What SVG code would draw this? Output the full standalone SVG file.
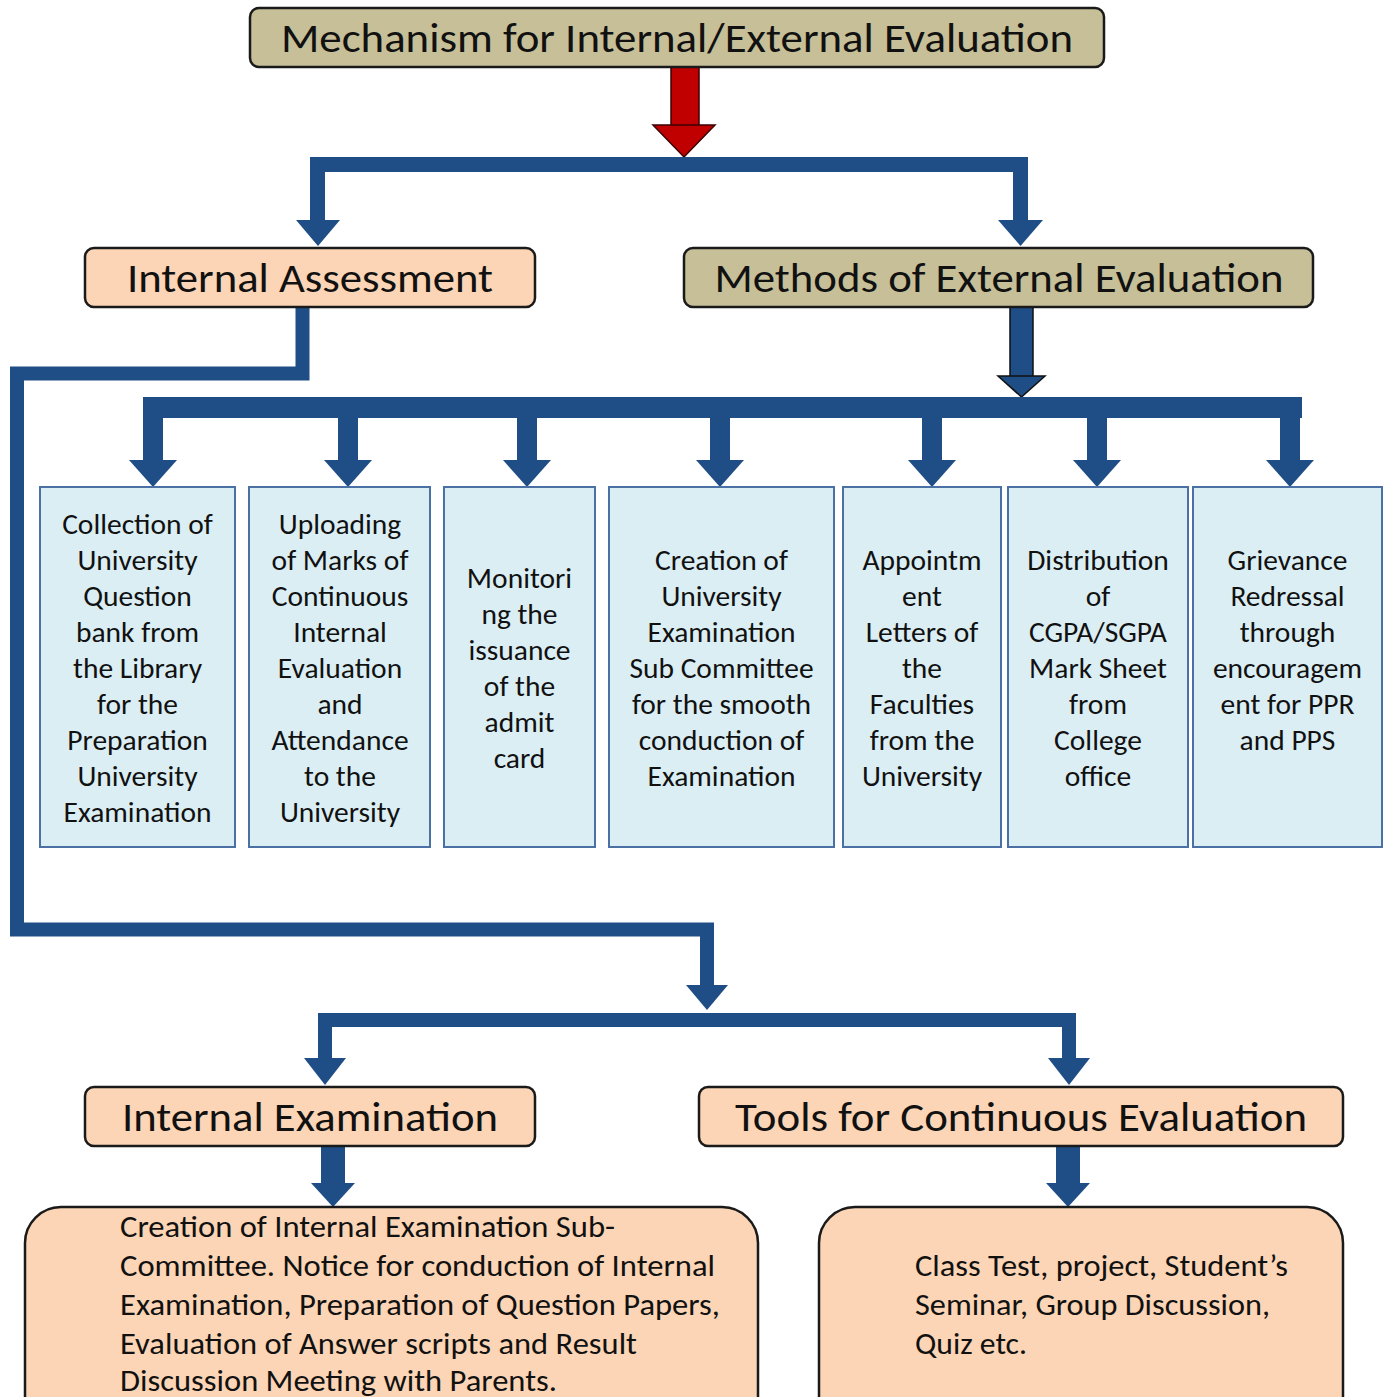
<svg xmlns="http://www.w3.org/2000/svg" width="1387" height="1397" viewBox="0 0 1387 1397">
<style>
  text { font-family: Carlito, Calibri, Lato, "Liberation Sans", sans-serif; fill: #111; }
  .head { font-size: 41px; text-anchor: middle; }
  .tan { fill: #c6bf98; stroke: #1a1a1a; stroke-width: 2.5; }
  .peach { fill: #fbd5b5; stroke: #1a1a1a; stroke-width: 2.5; }
  .blue { fill: #dbeef4; stroke: #4a70a4; stroke-width: 2; }
  .bt { font-size: 29.5px; text-anchor: middle; }
  .pt { font-size: 31px; }
  .conn { fill: none; stroke: #1f4e86; stroke-linejoin: miter; stroke-linecap: butt; }
  .ah { fill: #1f4e86; }
</style>
<rect width="1387" height="1397" fill="#ffffff"/>

<g id="connectors">
  <!-- red arrow from title -->
  <rect x="671" y="67" width="28" height="60" fill="#c00000" stroke="#3a0000" stroke-width="1.5"/>
  <polygon points="653,125 715,125 684,157" fill="#c00000" stroke="#3a0000" stroke-width="1.5"/>
  <!-- top branch -->
  <path class="conn" stroke-width="15" d="M317.5,224 V164.5 H1020.5 V224"/>
  <polygon class="ah" points="296,220 340,220 318,246"/>
  <polygon class="ah" points="998,220 1043,220 1020.5,246"/>
  <!-- internal assessment route -->
  <path class="conn" stroke-width="14" d="M302.5,307 V373.5 H17 V929.5 H707 V987"/>
  <polygon class="ah" points="686,985 728,985 707,1010"/>
  <!-- methods of external evaluation -->
  <rect x="1010" y="307" width="23" height="71" fill="#1f4e86" stroke="#111" stroke-width="1.5"/>
  <polygon points="998,376 1045,376 1021.5,397" fill="#1f4e86" stroke="#111" stroke-width="1.5"/>
  <rect x="143" y="397" width="1159" height="21" fill="#1f4e86"/>
  <rect x="143" y="410" width="20" height="52" fill="#1f4e86"/>
  <polygon class="ah" points="129,460 177,460 153,487"/>
  <rect x="338" y="410" width="20" height="52" fill="#1f4e86"/>
  <polygon class="ah" points="324,460 372,460 348,487"/>
  <rect x="517" y="410" width="20" height="52" fill="#1f4e86"/>
  <polygon class="ah" points="503,460 551,460 527,487"/>
  <rect x="710" y="410" width="20" height="52" fill="#1f4e86"/>
  <polygon class="ah" points="696,460 744,460 720,487"/>
  <rect x="922" y="410" width="20" height="52" fill="#1f4e86"/>
  <polygon class="ah" points="908,460 956,460 932,487"/>
  <rect x="1087" y="410" width="20" height="52" fill="#1f4e86"/>
  <polygon class="ah" points="1073,460 1121,460 1097,487"/>
  <rect x="1280" y="410" width="20" height="52" fill="#1f4e86"/>
  <polygon class="ah" points="1266,460 1314,460 1290,487"/>
  <!-- lower branch -->
  <path class="conn" stroke-width="14" d="M325,1062 V1020 H1069 V1062"/>
  <polygon class="ah" points="304,1058 346,1058 325,1085"/>
  <polygon class="ah" points="1048,1058 1090,1058 1069,1085"/>
  <!-- down to detail boxes -->
  <rect x="321" y="1146" width="24" height="40" fill="#1f4e86"/>
  <polygon class="ah" points="311,1183 355,1183 333,1207"/>
  <rect x="1056" y="1146" width="24" height="40" fill="#1f4e86"/>
  <polygon class="ah" points="1046,1183 1090,1183 1068,1207"/>
</g>

<g id="title">
  <rect class="tan" x="250" y="8" width="854" height="59" rx="9"/>
  <text class="head" x="677" y="52" textLength="792" lengthAdjust="spacingAndGlyphs">Mechanism for Internal/External Evaluation</text>
</g>

<g id="internal-assessment">
  <rect class="peach" x="85" y="248" width="450" height="59" rx="9"/>
  <text class="head" x="310" y="292" textLength="366" lengthAdjust="spacingAndGlyphs">Internal Assessment</text>
</g>

<g id="methods-external">
  <rect class="tan" x="684" y="248" width="629" height="59" rx="9"/>
  <text class="head" x="999" y="292" textLength="569" lengthAdjust="spacingAndGlyphs">Methods of External Evaluation</text>
</g>

<g id="box-collection">
  <rect class="blue" x="40" y="487" width="195" height="360"/>
  <text class="bt" x="137.5" y="534"><tspan x="137.5">Collection of</tspan><tspan x="137.5" dy="36">University</tspan><tspan x="137.5" dy="36">Question</tspan><tspan x="137.5" dy="36">bank from</tspan><tspan x="137.5" dy="36">the Library</tspan><tspan x="137.5" dy="36">for the</tspan><tspan x="137.5" dy="36">Preparation</tspan><tspan x="137.5" dy="36">University</tspan><tspan x="137.5" dy="36">Examination</tspan></text>
</g>

<g id="box-uploading">
  <rect class="blue" x="249" y="487" width="181" height="360"/>
  <text class="bt" x="340" y="534"><tspan x="340">Uploading</tspan><tspan x="340" dy="36">of Marks of</tspan><tspan x="340" dy="36">Continuous</tspan><tspan x="340" dy="36">Internal</tspan><tspan x="340" dy="36">Evaluation</tspan><tspan x="340" dy="36">and</tspan><tspan x="340" dy="36">Attendance</tspan><tspan x="340" dy="36">to the</tspan><tspan x="340" dy="36">University</tspan></text>
</g>

<g id="box-monitoring">
  <rect class="blue" x="444" y="487" width="151" height="360"/>
  <text class="bt" x="519.5" y="588"><tspan x="519.5">Monitori</tspan><tspan x="519.5" dy="36">ng the</tspan><tspan x="519.5" dy="36">issuance</tspan><tspan x="519.5" dy="36">of the</tspan><tspan x="519.5" dy="36">admit</tspan><tspan x="519.5" dy="36">card</tspan></text>
</g>

<g id="box-creation">
  <rect class="blue" x="609" y="487" width="225" height="360"/>
  <text class="bt" x="721.5" y="570"><tspan x="721.5">Creation of</tspan><tspan x="721.5" dy="36">University</tspan><tspan x="721.5" dy="36">Examination</tspan><tspan x="721.5" dy="36">Sub Committee</tspan><tspan x="721.5" dy="36">for the smooth</tspan><tspan x="721.5" dy="36">conduction of</tspan><tspan x="721.5" dy="36">Examination</tspan></text>
</g>

<g id="box-appointment">
  <rect class="blue" x="843" y="487" width="158" height="360"/>
  <text class="bt" x="922" y="570"><tspan x="922">Appointm</tspan><tspan x="922" dy="36">ent</tspan><tspan x="922" dy="36">Letters of</tspan><tspan x="922" dy="36">the</tspan><tspan x="922" dy="36">Faculties</tspan><tspan x="922" dy="36">from the</tspan><tspan x="922" dy="36">University</tspan></text>
</g>

<g id="box-distribution">
  <rect class="blue" x="1008" y="487" width="180" height="360"/>
  <text class="bt" x="1098" y="570"><tspan x="1098">Distribution</tspan><tspan x="1098" dy="36">of</tspan><tspan x="1098" dy="36">CGPA/SGPA</tspan><tspan x="1098" dy="36">Mark Sheet</tspan><tspan x="1098" dy="36">from</tspan><tspan x="1098" dy="36">College</tspan><tspan x="1098" dy="36">office</tspan></text>
</g>

<g id="box-grievance">
  <rect class="blue" x="1193" y="487" width="189" height="360"/>
  <text class="bt" x="1287.5" y="570"><tspan x="1287.5">Grievance</tspan><tspan x="1287.5" dy="36">Redressal</tspan><tspan x="1287.5" dy="36">through</tspan><tspan x="1287.5" dy="36">encouragem</tspan><tspan x="1287.5" dy="36">ent for PPR</tspan><tspan x="1287.5" dy="36">and PPS</tspan></text>
</g>

<g id="internal-examination">
  <rect class="peach" x="85" y="1087" width="450" height="59" rx="9"/>
  <text class="head" x="310" y="1131" textLength="376" lengthAdjust="spacingAndGlyphs">Internal Examination</text>
</g>

<g id="tools-continuous">
  <rect class="peach" x="699" y="1087" width="644" height="59" rx="9"/>
  <text class="head" x="1021" y="1131" textLength="572" lengthAdjust="spacingAndGlyphs">Tools for Continuous Evaluation</text>
</g>

<g id="internal-exam-detail">
  <rect class="peach" x="25" y="1207" width="733" height="230" rx="36"/>
  <text class="pt" x="120" y="1237" textLength="495" lengthAdjust="spacingAndGlyphs">Creation of Internal Examination Sub-</text>
  <text class="pt" x="120" y="1276" textLength="595" lengthAdjust="spacingAndGlyphs">Committee. Notice for conduction of Internal</text>
  <text class="pt" x="120" y="1315" textLength="600" lengthAdjust="spacingAndGlyphs">Examination, Preparation of Question Papers,</text>
  <text class="pt" x="120" y="1354" textLength="517" lengthAdjust="spacingAndGlyphs">Evaluation of Answer scripts and Result</text>
  <text class="pt" x="120" y="1391" textLength="437" lengthAdjust="spacingAndGlyphs">Discussion Meeting with Parents.</text>
</g>

<g id="tools-detail">
  <rect class="peach" x="819" y="1207" width="524" height="230" rx="36"/>
  <text class="pt" x="915" y="1276" textLength="373" lengthAdjust="spacingAndGlyphs">Class Test, project, Student’s</text>
  <text class="pt" x="915" y="1315" textLength="355" lengthAdjust="spacingAndGlyphs">Seminar, Group Discussion,</text>
  <text class="pt" x="915" y="1354" textLength="112" lengthAdjust="spacingAndGlyphs">Quiz etc.</text>
</g>
</svg>
